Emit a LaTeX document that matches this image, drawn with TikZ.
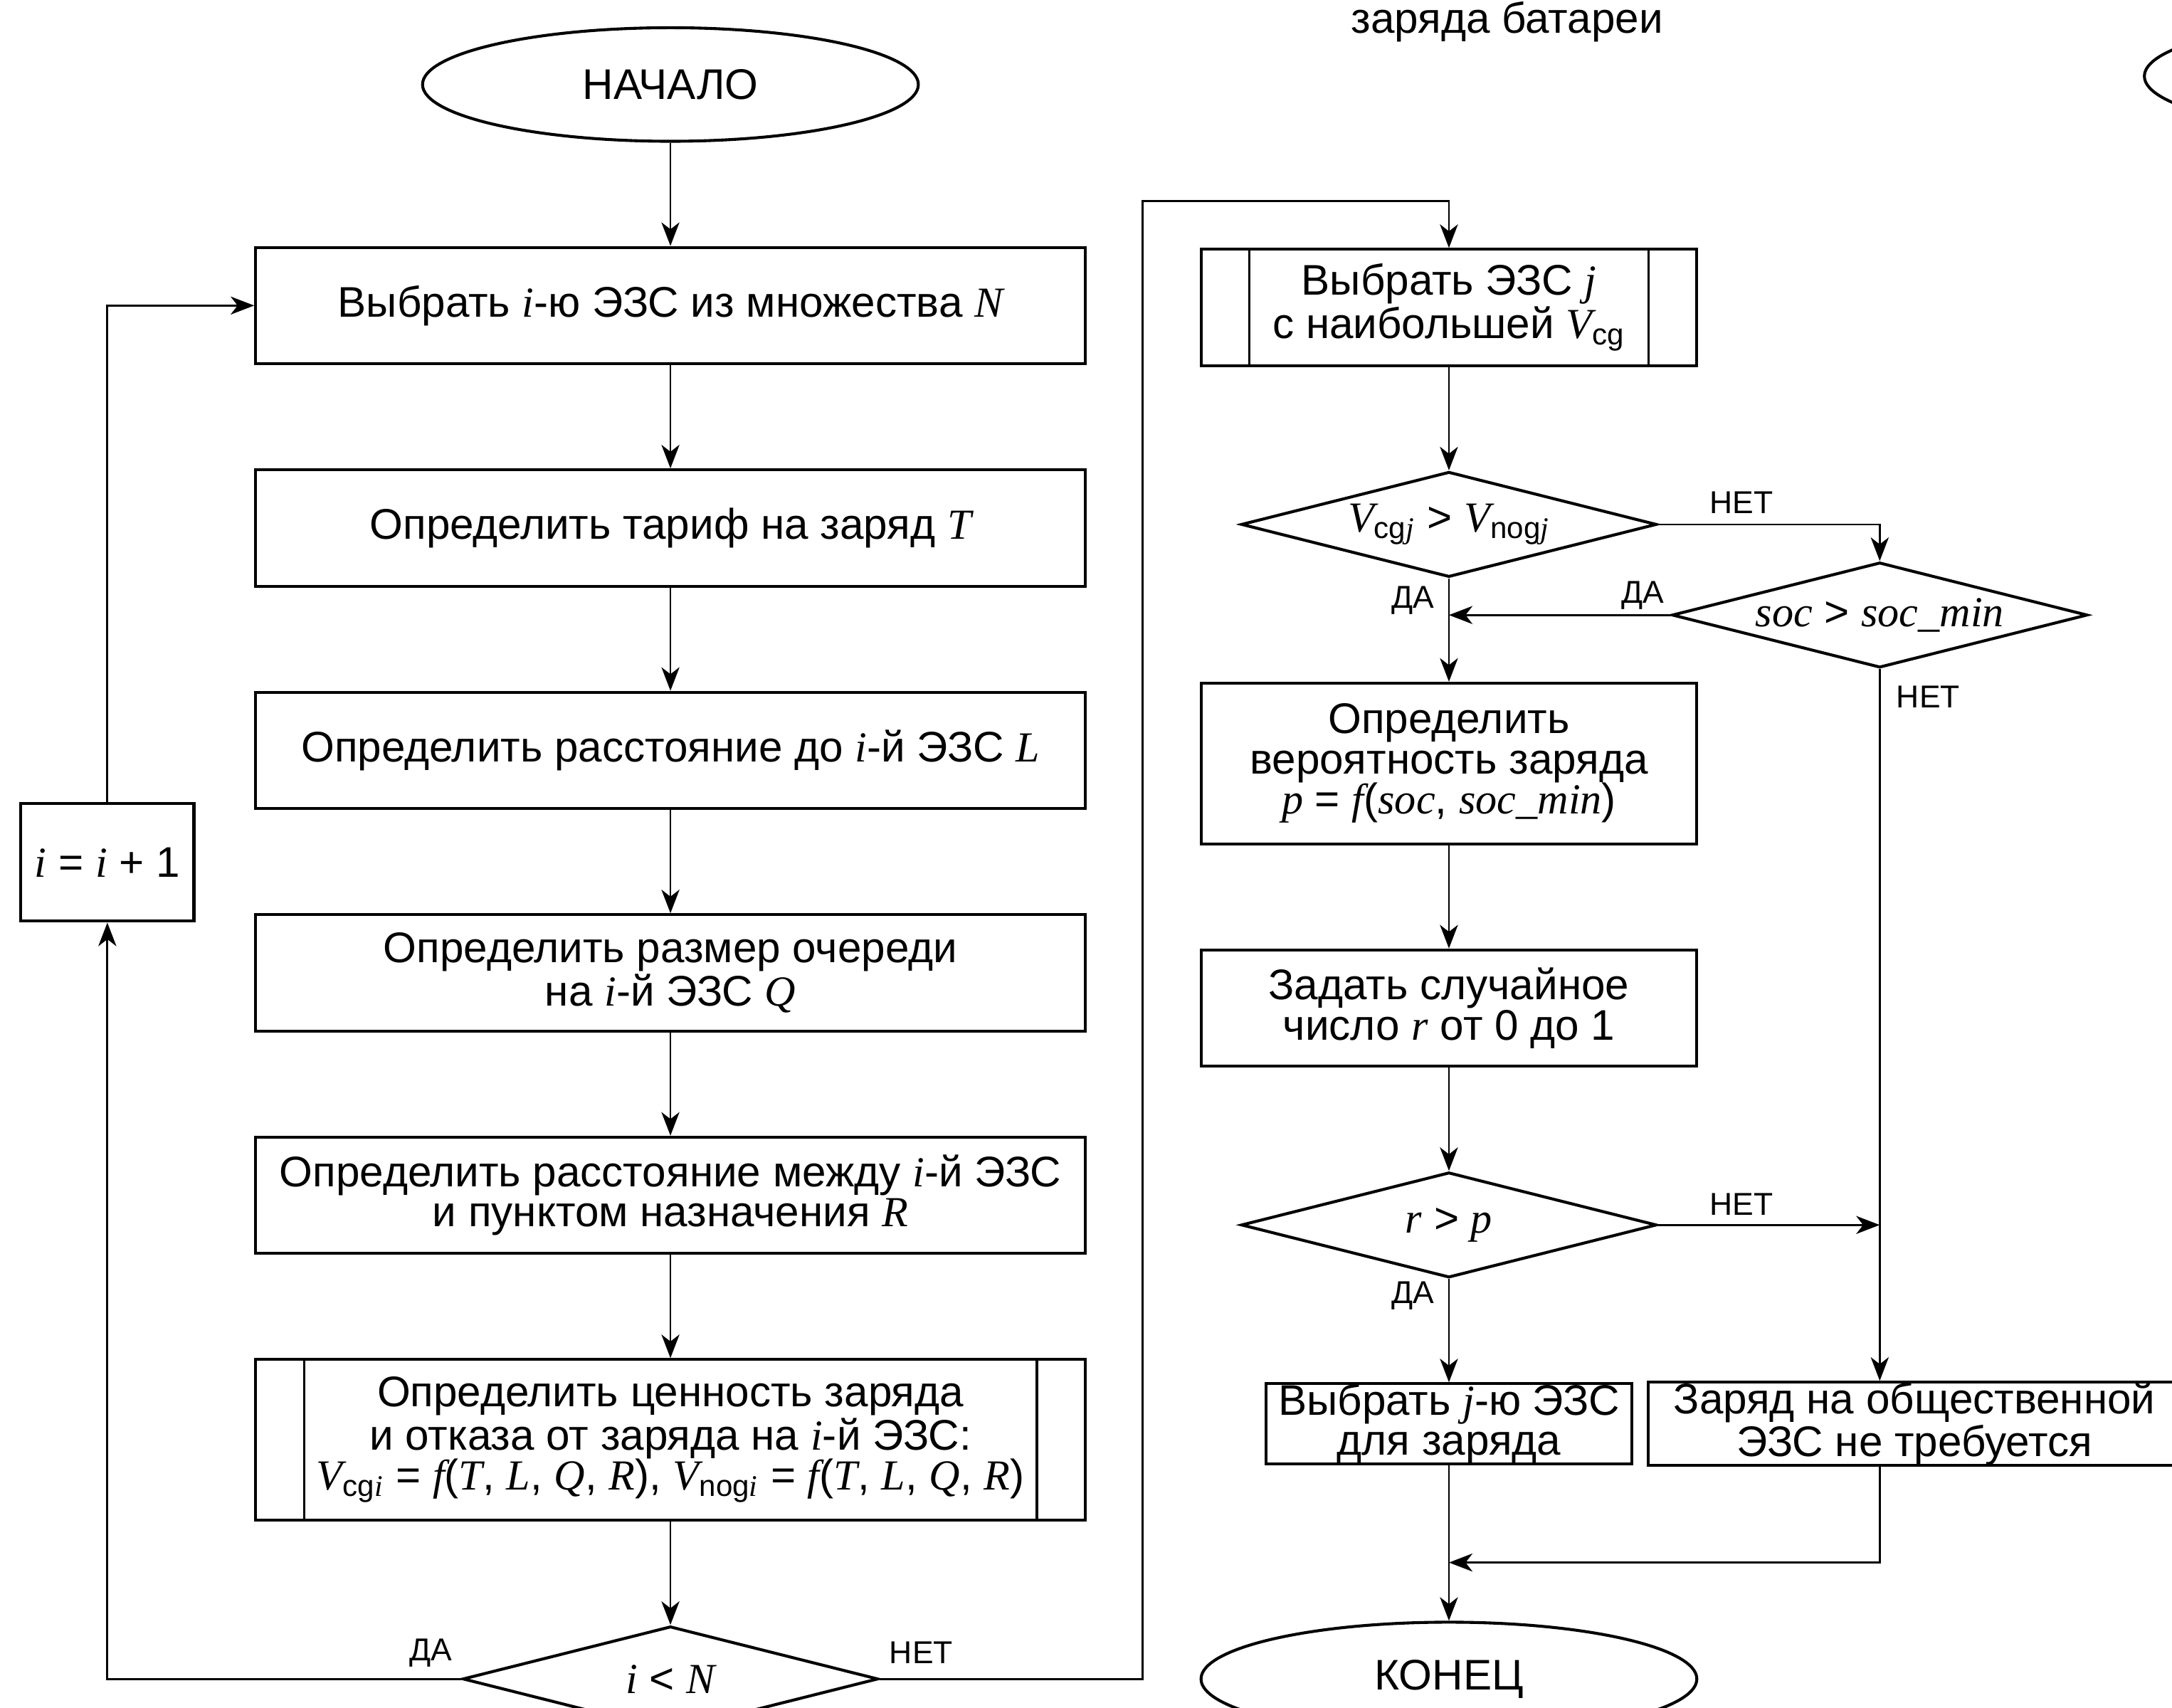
\documentclass[tikz,border=0pt]{standalone}
\usepackage{fontspec}
\setmainfont{Liberation Sans}
\newfontfamily\varfont{Liberation Serif}
\newcommand{\mv}[1]{{\varfont\itshape #1}}
\newcommand{\cond}[1]{\makebox[0pt]{#1}}
\usetikzlibrary{positioning,shapes.geometric,arrows.meta}

\begin{document}
\begin{tikzpicture}[x=0.02cm, y=-0.02cm, node distance=1.49cm,
		every node/.style={font=\fontsize{17.6}{16.5}\selectfont},
		arr/.style={-{Stealth[length=0.34cm,width=0.26cm,inset=0.1cm]}, line width=0.8pt},
		block/.style={draw, rectangle, line width=1.2pt, align=center, inner sep=0pt, minimum width=11.98cm, minimum height=1.68cm},
		dec/.style={draw, diamond, line width=1.2pt, inner sep=0pt, minimum width=6cm, minimum height=1.52cm},
		term/.style={draw, ellipse, line width=1.2pt, inner sep=0pt, minimum width=7.16cm, minimum height=1.64cm},
		lbl/.style={font=\fontsize{13}{13}\selectfont, inner sep=0pt}]
			\useasboundingbox (0,0) rectangle (1568,1233);
			\clip (0,0) rectangle (1568,1233);

			\node (title) at (1088,16) {заряда батареи};
			\node[term] (next) at (1727,55) {};

			\node[term] (start) at (484,61) {НАЧАЛО};
			\node[block, below=of start] (choose) {Выбрать \mv{i}-ю ЭЗС из множества \mv{N}};
			\node[block, below=of choose] (tariff) {Определить тариф на заряд \mv{T}};
			\node[block, below=of tariff] (dist) {Определить расстояние до \mv{i}-й ЭЗС \mv{L}};
			\node[block, below=of dist] (queue) {Определить размер очереди\\на \mv{i}-й ЭЗС \mv{Q}};
			\node[block, below=of queue] (dest) {Определить расстояние между \mv{i}-й ЭЗС\\и пунктом назначения \mv{R}};
			\node[block, minimum height=2.32cm, below=of dest] (value) {Определить ценность заряда\\и отказа от заряда на \mv{i}-й ЭЗС:\\\mv{V}\textsubscript{cg\mv{i}} = \mv{f}(\mv{T}, \mv{L}, \mv{Q}, \mv{R}), \mv{V}\textsubscript{nog\mv{i}} = \mv{f}(\mv{T}, \mv{L}, \mv{Q}, \mv{R})};
			\node[dec, below=of value] (check) {\cond{\mv{i} < \mv{N}}};
			\node[block, minimum width=2.5cm, minimum height=1.7cm] (inc) at (77.5,622.5) {\mv{i} = \mv{i} + 1};

			\node[block, minimum width=7.16cm] (best) at (1046,222) {Выбрать ЭЗС \mv{j}\\с наибольшей \mv{V}\textsubscript{cg}};
			\node[dec, below=of best] (cmp) {\cond{\mv{V}\textsubscript{cg\mv{j}} > \mv{V}\textsubscript{nog\mv{j}}}};
			\node[dec] (soc) at (1357,444) {\cond{\mv{soc} > \mv{soc\_min}}};
			\node[block, minimum width=7.16cm, minimum height=2.32cm, below=of cmp] (prob) {Определить\\вероятность заряда\\\mv{p} = \mv{f}(\mv{soc}, \mv{soc\_min})};
			\node[block, minimum width=7.16cm, below=of prob] (rnd) {Задать случайное\\число \mv{r} от 0 до 1};
			\node[dec, below=of rnd] (rp) {\cond{\mv{r} > \mv{p}}};
			\node[block, minimum width=5.28cm, minimum height=1.14cm, below=of rp] (take) {Выбрать \mv{j}-ю ЭЗС\\для заряда};
			\node[block, minimum width=7.68cm, minimum height=1.14cm, right=0.2cm of take] (skip) {Заряд на общественной\\ЭЗС не требуется};
			\node[term, below=2.24cm of take] (stop) {КОНЕЦ};

			% inner bars of the subprocess blocks
			\foreach \n in {value,best} {
				\draw[line width=1pt] ([xshift=0.72cm]\n.north west) -- ([xshift=0.72cm]\n.south west);
				\draw[line width=1pt] ([xshift=-0.72cm]\n.north east) -- ([xshift=-0.72cm]\n.south east);
			}

			\foreach \from / \to in {start/choose,choose/tariff,tariff/dist,dist/queue,queue/dest,dest/value,value/check,best/cmp,cmp/prob,prob/rnd,rnd/rp,rp/take,take/stop} {
				\draw[arr] (\from) -- (\to);
			}

			\coordinate (up) at (825,145);
			\coordinate (join) at (1046,1128);
			\draw[arr] (check.west) -| (inc.south);
			\draw[arr] (inc.north) |- (choose.west);
			\draw[arr] (check.east) -| (up) -| (best.north);
			\draw[arr] (cmp.east) -| (soc.north);
			\draw[arr] (soc.west) -- (soc.west -| cmp.south);
			\draw[arr] (soc.south) -- (soc.south |- skip.north);
			\draw[arr] (rp.east) -- (rp.east -| soc.south);
			\draw[arr] (soc.south |- skip.south) |- (join);

			% yes / no labels
			\node[lbl] (yes1) at ([xshift=-0.44cm,yshift=0.38cm]check.west) {ДА};
			\node[lbl] (no1) at ([xshift=0.6cm,yshift=0.38cm]check.east) {НЕТ};
			\node[lbl] (no2) at ([xshift=1.2cm,yshift=0.32cm]cmp.east) {НЕТ};
			\node[lbl] (yes2) at ([xshift=-0.52cm,yshift=-0.32cm]cmp.south) {ДА};
			\node[lbl] (yes3) at ([xshift=-0.4cm,yshift=0.28cm]soc.west) {ДА};
			\node[lbl] (no3) at ([xshift=0.7cm,yshift=-0.4cm]soc.south) {НЕТ};
			\node[lbl] (no4) at ([xshift=1.2cm,yshift=0.3cm]rp.east) {НЕТ};
			\node[lbl] (yes4) at ([xshift=-0.52cm,yshift=-0.24cm]rp.south) {ДА};
		\end{tikzpicture}
\end{document}
